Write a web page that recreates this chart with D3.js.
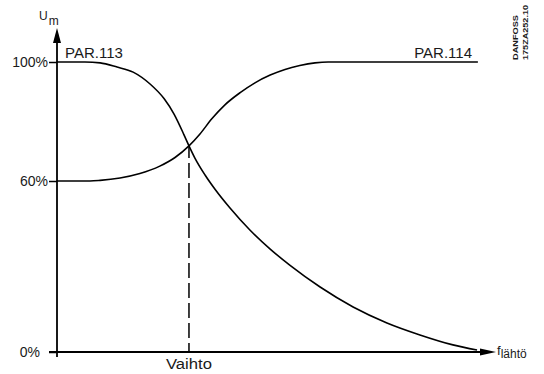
<!DOCTYPE html>
<html>
<head>
<meta charset="utf-8">
<script src="https://cdn.jsdelivr.net/npm/d3@7"></script>
<style>
  html, body { margin: 0; padding: 0; background: #fff; }
  svg { display: block; }
  text { font-family: "Liberation Sans", Arial, sans-serif; fill: #1a1a1a; }
</style>
</head>
<body>
<svg id="chart" width="544" height="374"></svg>
<script>
// Output frequency (relative units, 0..100) and motor voltage Um (%)
const freqDown = [0, 6.6, 10.2, 14.2, 18.0, 22.0, 25.3, 27.7, 30.0, 31.2, 32.6, 35.0, 37.4, 40.9, 45.6, 50.4, 55.1, 62.2, 70.0, 78.0, 85.8, 93.6, 99.3];
const voltDown = [100, 100, 99.7, 98.3, 96.6, 92.6, 87.7, 82.4, 75.6, 71.8, 67.7, 62.0, 57.0, 50.5, 42.8, 36.1, 30.4, 22.8, 15.8, 10.2, 6.0, 2.5, 0.7];

const freqUp = [0, 7.8, 10.2, 14.9, 19.6, 24.3, 27.9, 31.2, 33.8, 36.6, 39.7, 43.3, 46.8, 50.4, 53.9, 57.4, 61.0, 64.1, 99.5];
const voltUp = [60, 60, 60.2, 61.0, 62.5, 65.0, 67.9, 71.8, 75.8, 80.9, 85.6, 89.7, 93.0, 95.6, 97.5, 98.8, 99.7, 100, 100];

const yTicks = [0, 60, 100];
const changeover = 31.2;        // "Vaihto" point, where both curves cross
const changeoverVolt = 71.8;

const labelLow = "PAR.113";
const labelHigh = "PAR.114";
const xLabel = "Vaihto";

const svg = d3.select("#chart");

const x = d3.scaleLinear().domain([0, 100]).range([57, 480]);
const y = d3.scaleLinear().domain([0, 60, 100]).range([352, 181, 62]);

const line = d3.line()
  .x(d => x(d[0]))
  .y(d => y(d[1]))
  .curve(d3.curveMonotoneX);

// Axes lines with arrowheads
svg.append("line")
  .attr("x1", x(0)).attr("x2", x(0))
  .attr("y1", 357).attr("y2", 40)
  .attr("stroke", "#000").attr("stroke-width", 1.8);
svg.append("path")
  .attr("d", `M${x(0)},28 L${x(0) - 4},43 L${x(0) + 4},43 Z`)
  .attr("fill", "#000");

svg.append("line")
  .attr("x1", 49).attr("x2", 483)
  .attr("y1", y(0)).attr("y2", y(0))
  .attr("stroke", "#000").attr("stroke-width", 1.8);
svg.append("path")
  .attr("d", `M496,${y(0)} L480,${y(0) - 3.5} L480,${y(0) + 3.5} Z`)
  .attr("fill", "#000");

// Y axis ticks and percent labels
const yAxis = d3.axisLeft(y)
  .tickValues(yTicks)
  .tickSize(8)
  .tickPadding(1)
  .tickFormat(d => d + "%");
const gy = svg.append("g")
  .attr("transform", `translate(${x(0)},0)`)
  .call(yAxis);
gy.select(".domain").remove();
gy.selectAll(".tick line").attr("stroke", "#000").attr("stroke-width", 1.5);
gy.selectAll(".tick text")
  .style("font-family", "Liberation Sans, Arial, sans-serif")
  .style("font-size", "14px")
  .attr("fill", "#1a1a1a")
  .attr("dx", d => d === 0 ? -8 : 0);

// Voltage curves
svg.append("path")
  .datum(freqDown.map((f, i) => [f, voltDown[i]]))
  .attr("d", line)
  .attr("fill", "none")
  .attr("stroke", "#000")
  .attr("stroke-width", 1.6);

svg.append("path")
  .datum(freqUp.map((f, i) => [f, voltUp[i]]))
  .attr("d", line)
  .attr("fill", "none")
  .attr("stroke", "#000")
  .attr("stroke-width", 1.6);

// Changeover marker
svg.append("line")
  .attr("x1", x(changeover)).attr("x2", x(changeover))
  .attr("y1", y(changeoverVolt)).attr("y2", y(0))
  .attr("stroke", "#000").attr("stroke-width", 1.5)
  .attr("stroke-dasharray", "15,5")
  .attr("stroke-dashoffset", 3);

// Labels
svg.append("text")
  .attr("x", x(changeover) - 23).attr("y", 369)
  .attr("font-size", 14)
  .attr("textLength", 46).attr("lengthAdjust", "spacingAndGlyphs")
  .text(xLabel);

svg.append("text")
  .attr("x", 65).attr("y", 58)
  .attr("font-size", 15)
  .text(labelLow);

svg.append("text")
  .attr("x", 472).attr("y", 58)
  .attr("text-anchor", "end")
  .attr("font-size", 15)
  .text(labelHigh);

// Axis titles
const um = svg.append("text").attr("x", 39).attr("y", 20).attr("font-size", 12);
um.append("tspan").text("U");
um.append("tspan").attr("dx", 1).attr("dy", 5).attr("font-size", 12).text("m");

const fo = svg.append("text").attr("x", 497).attr("y", 355).attr("font-size", 13);
fo.append("tspan").text("f");
fo.append("tspan").attr("dy", 3).attr("font-size", 12).text("lähtö");

// Drawing reference code
svg.append("text")
  .attr("transform", "translate(518,60) rotate(-90)")
  .attr("font-size", 8).attr("font-weight", "bold")
  .attr("textLength", 45).attr("lengthAdjust", "spacingAndGlyphs")
  .text("DANFOSS");
svg.append("text")
  .attr("transform", "translate(528,60) rotate(-90)")
  .attr("font-size", 8).attr("font-weight", "bold")
  .attr("textLength", 55).attr("lengthAdjust", "spacingAndGlyphs")
  .text("175ZA252.10");
</script>
</body>
</html>
